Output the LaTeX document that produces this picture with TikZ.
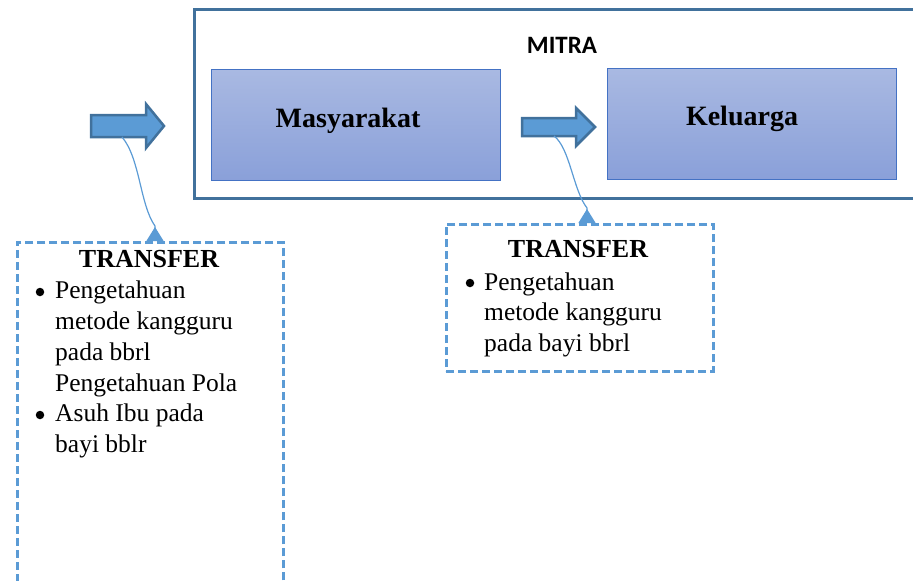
\documentclass[tikz,border=0pt]{standalone}
\usepackage{fontspec}
\setmainfont{Liberation Serif}
\newfontfamily\mitrafont{Carlito}
\usetikzlibrary{arrows.meta}
\definecolor{mborder}{HTML}{4472C4}
\definecolor{mtop}{HTML}{A9B9E2}
\definecolor{mbot}{HTML}{8AA0D9}
\definecolor{frame}{HTML}{41719C}
\definecolor{afill}{HTML}{5B9BD5}
\definecolor{aedge}{HTML}{41719C}
\definecolor{dashcol}{HTML}{5B9BD5}

\begin{document}
\begin{tikzpicture}[x=1pt,y=-1pt,
  mbox/.style={draw=mborder,line width=1pt,top color=mtop,bottom color=mbot,
    minimum width=289pt,minimum height=111pt,inner sep=0pt},
  bigtext/.style={font=\fontsize{28}{32}\selectfont\bfseries,anchor=base,inner sep=0pt},
  dashbox/.style={draw=dashcol,line width=2.5pt,dash pattern=on 8pt off 4pt,
    minimum width=266pt,inner sep=0pt,anchor=north west},
  head/.style={font=\fontsize{26}{30}\selectfont\bfseries,anchor=base,inner sep=0pt},
  item/.style={font=\fontsize{25.5}{30}\selectfont,anchor=base west,inner sep=0pt},
  bul/.style={circle,fill=black,inner sep=0pt,minimum size=8.5pt},
  blockarrow/.style={fill=afill,draw=aedge,line width=2.5pt,line join=miter},
  conn/.style={draw=dashcol,line width=1.2pt,-{Triangle[reversed,length=14pt,width=17pt]}}]
\useasboundingbox (0,0) rectangle (913,581);

% mitra frame
\node[draw=frame,line width=3pt,minimum width=740pt,minimum height=189pt,
  inner sep=0pt,anchor=north west] (mitra) at (193,8) {};
\node[font=\mitrafont\fontsize{25}{28}\selectfont\bfseries,anchor=base,inner sep=0pt]
  (mitralabel) at (562,53) {MITRA};

\node[mbox] (masy) at (355.5,124.5) {};
\node[mbox] (kel) at (752,123.5) {};
\node[bigtext] (masytext) at (348,127) {Masyarakat};
\node[bigtext] (keltext) at (742,125) {Keluarga};

% block arrows
\draw[blockarrow] (91,115) -- (146,115) -- (146,104) -- (164,126) -- (146,148)
  -- (146,137) -- (91,137) -- cycle;
\draw[blockarrow] (522,118) -- (576,118) -- (576,108) -- (595,127) -- (576,146)
  -- (576,136) -- (522,136) -- cycle;
\coordinate (a1) at (122,137);
\coordinate (a2) at (554,136);

% transfer boxes
\node[dashbox,minimum height=360pt] (tl) at (16,241) {};
\node[dashbox,minimum width=267pt,minimum height=147pt] (tr) at (445,223) {};

\draw[conn] (a1) .. controls (140,158) and (140,205) .. (155,226)
  -- ([xshift=139pt]tl.north west);
\draw[conn] (a2) .. controls (570,148) and (573,190) .. (587,208)
  -- ([xshift=142pt]tr.north west);

% left text
\node[head] (tlhead) at (149,267) {TRANSFER};
\node[bul] (tlb1) at (40,292) {};
\node[item] (tl1) at (55,298) {Pengetahuan};
\node[item] (tl2) at (55,329) {metode kangguru};
\node[item] (tl3) at (55,360) {pada bbrl};
\node[item] (tl4) at (55,391) {Pengetahuan Pola};
\node[bul] (tlb2) at (40,415) {};
\node[item] (tl5) at (55,421) {Asuh Ibu pada};
\node[item] (tl6) at (55,452) {bayi bblr};

% right text
\node[head] (trhead) at (578,257) {TRANSFER};
\node[bul] (trb1) at (470,283) {};
\node[item] (tr1) at (484,290) {Pengetahuan};
\node[item] (tr2) at (484,320.5) {metode kangguru};
\node[item] (tr3) at (484,351) {pada bayi bbrl};
\end{tikzpicture}
\end{document}
